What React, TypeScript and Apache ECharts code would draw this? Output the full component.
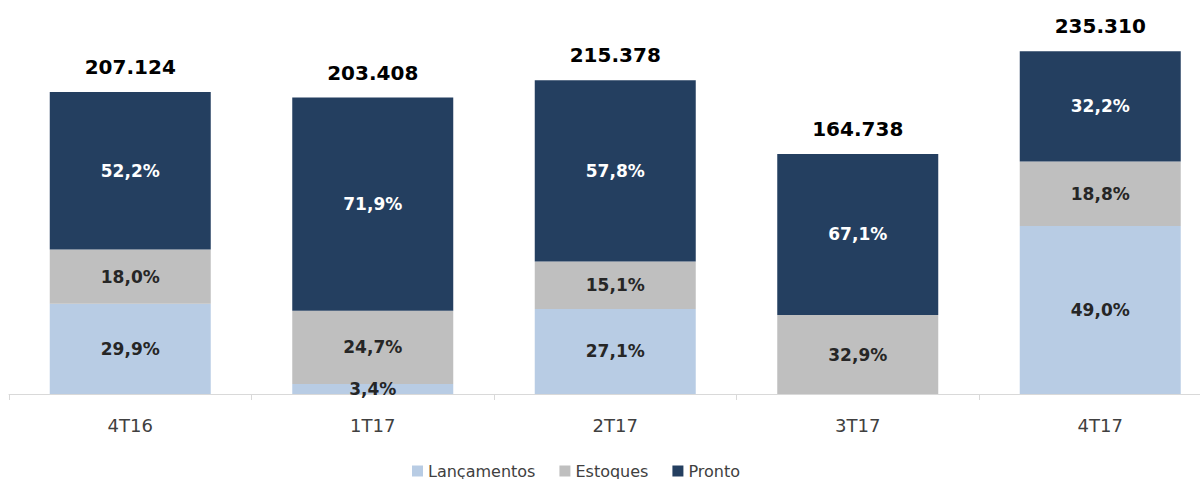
import React, { useEffect, useRef } from "react";
import * as echarts from "echarts";

const categories = ["4T16", "1T17", "2T17", "3T17", "4T17"];
const totals = [207124, 203408, 215378, 164738, 235310];
const lancamentosPct = [29.9, 3.4, 27.1, 0, 49.0];
const estoquesPct = [18.0, 24.7, 15.1, 32.9, 18.8];
const prontoPct = [52.2, 71.9, 57.8, 67.1, 32.2];
const seriesNames = ["Lançamentos", "Estoques", "Pronto"];
const colors = ["#B8CCE4", "#BFBFBF", "#243F60"];

const FONT = "DejaVu Sans";

const fmtPct = (v: number) => v.toFixed(1).replace(".", ",") + "%";
const fmtTotal = (v: number) => v.toLocaleString("pt-BR");

export default function App() {
  const ref = useRef<HTMLDivElement>(null);
  useEffect(() => {
    if (!ref.current) return;
    const chart = echarts.init(ref.current, undefined, { renderer: "svg" });
    const pctSets = [lancamentosPct, estoquesPct, prontoPct];
    const series: any[] = pctSets.map((pcts, si) => ({
      name: seriesNames[si],
      type: "bar",
      stack: "total",
      barWidth: 161,
      itemStyle: { color: colors[si] },
      data: pcts.map((p, i) => ({
        value: (totals[i] * p) / 100,
        pct: p,
      })),
      label: {
        show: true,
        position: "inside",
        fontFamily: FONT,
        fontSize: 17,
        fontWeight: "bold",
        lineHeight: 17,
        color: si === 2 ? "#FFFFFF" : "#262626",
        formatter: (params: any) => (params.data.pct > 0 ? fmtPct(params.data.pct) : ""),
      },
    }));
    series.push({
      name: "__total",
      type: "bar",
      stack: "total",
      barWidth: 161,
      itemStyle: { color: "transparent" },
      data: totals.map((t) => ({ value: 0, total: t })),
      label: {
        show: true,
        position: "top",
        distance: 15,
        fontFamily: FONT,
        fontSize: 20,
        fontWeight: "bold",
        lineHeight: 20,
        color: "#000000",
        formatter: (params: any) => fmtTotal(params.data.total),
      },
      silent: true,
    });
    chart.setOption({
      animation: false,
      backgroundColor: "#FFFFFF",
      textStyle: { fontFamily: FONT },
      grid: { left: 9, top: 0, right: 0.5, height: 394 },
      legend: {
        data: seriesNames,
        left: 407,
        top: 458,
        itemWidth: 11,
        itemHeight: 11,
        itemGap: 24,
        icon: "rect",
        textStyle: { fontFamily: FONT, fontSize: 16, color: "#404040" },
      },
      xAxis: {
        type: "category",
        data: categories,
        axisLine: { show: true, lineStyle: { color: "#D9D9D9", width: 1 } },
        axisTick: { show: true, length: 6, lineStyle: { color: "#D9D9D9" } },
        axisLabel: {
          margin: 22,
          fontFamily: FONT,
          fontSize: 18,
          lineHeight: 18,
          color: "#404040",
        },
      },
      yAxis: {
        type: "value",
        min: 0,
        max: 270400,
        show: false,
        splitLine: { show: false },
      },
      series,
    });
    return () => chart.dispose();
  }, []);
  return (
    <div
      style={{
        position: "absolute",
        left: 0,
        top: 0,
        width: 1200,
        height: 479,
        overflow: "hidden",
        background: "#FFFFFF",
      }}
    >
      <div ref={ref} style={{ width: 1222, height: 479 }} />
    </div>
  );
}
